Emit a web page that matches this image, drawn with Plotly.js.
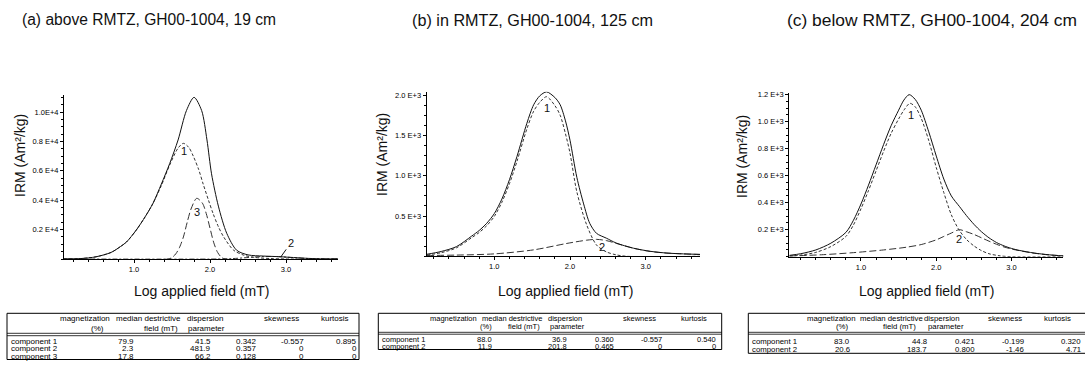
<!DOCTYPE html>
<html>
<head>
<meta charset="utf-8">
<script src="https://cdn.plot.ly/plotly-3.0.1.min.js"></script>
<style>
html,body{margin:0;padding:0;background:#fff;}
#chart{width:1085px;height:372px;}
</style>
</head>
<body>
<div id="chart"></div>
<script>
// ---------------- DATA ----------------
const panelTitles = ["(a) above RMTZ, GH00-1004, 19 cm", "(b) in RMTZ, GH00-1004, 125 cm", "(c) below RMTZ, GH00-1004, 204 cm"];
const xTitle = "Log applied field (mT)";
const yTitle = "IRM (Am\u00b2/kg)";
const xTickVals = [1, 2, 3];
const xTickText = ["1.0", "2.0", "3.0"];

// Panel (a)
const yTickValsA = [2000, 4000, 6000, 8000, 10000];
const yTickTextA = ["0.2 E+4", "0.4 E+4", "0.6 E+4", "0.8 E+4", "1.0E+4"];
const fieldA_total = [0.08, 0.3, 0.5, 0.7, 0.82, 0.9, 1.03, 1.15, 1.25, 1.36, 1.47, 1.58, 1.69, 1.79, 1.89, 1.96, 2.02, 2.11, 2.22, 2.35, 2.5, 2.7, 2.9, 3.1, 3.3, 3.5, 3.68];
const irmA_total   = [0, 30, 150, 450, 840, 1150, 1970, 2900, 3790, 5100, 6500, 8100, 10100, 11000, 10100, 8100, 5800, 3600, 1750, 600, 280, 200, 160, 100, 40, 10, 0];
const fieldA_c1 = [0.08, 0.3, 0.5, 0.7, 0.82, 0.9, 1.03, 1.15, 1.25, 1.36, 1.47, 1.58, 1.65, 1.72, 1.78, 1.85, 1.91, 1.98, 2.04, 2.11, 2.18, 2.31, 2.45, 2.6, 2.8, 3.0, 3.68];
const irmA_c1   = [0, 30, 150, 450, 840, 1150, 1970, 2900, 3790, 5000, 6400, 7550, 7870, 7600, 7000, 6100, 5100, 4000, 3100, 2200, 1500, 600, 250, 100, 30, 0, 0];
const fieldA_c2 = [0.08, 2.1, 2.3, 2.5, 2.7, 2.9, 3.1, 3.3, 3.5, 3.68];
const irmA_c2   = [0, 0, 30, 100, 170, 160, 90, 30, 5, 0];
const fieldA_c3 = [0.08, 1.45, 1.5, 1.55, 1.6, 1.65, 1.7, 1.75, 1.825, 1.9, 1.95, 2.0, 2.05, 2.1, 2.15, 2.2, 3.68];
const irmA_c3   = [0, 0, 100, 350, 800, 1500, 2500, 3400, 4130, 3800, 3100, 2100, 1100, 450, 120, 0, 0];

// Panel (b)
const yTickValsB = [500, 1000, 1500, 2000];
const yTickTextB = ["0.5 E+3", "1.0 E+3", "1.5 E+3", "2.0 E+3"];
const fieldB_total = [0.11, 0.3, 0.5, 0.7, 0.8, 0.9, 1.0, 1.1, 1.2, 1.3, 1.43, 1.52, 1.6, 1.69, 1.8, 1.87, 1.94, 2.0, 2.09, 2.18, 2.26, 2.35, 2.48, 2.61, 2.84, 3.06, 3.28, 3.5, 3.72];
const irmB_total   = [25, 60, 120, 250, 320, 410, 530, 710, 950, 1240, 1650, 1880, 1990, 2040, 1970, 1880, 1680, 1440, 980, 650, 410, 285, 225, 165, 100, 62, 40, 30, 24];
const fieldB_c1 = [0.11, 0.3, 0.5, 0.7, 0.8, 0.9, 1.0, 1.1, 1.2, 1.3, 1.43, 1.52, 1.6, 1.69, 1.8, 1.87, 1.94, 2.0, 2.09, 2.22, 2.35, 2.48, 2.61, 2.75, 3.72];
const irmB_c1   = [15, 45, 105, 230, 295, 380, 495, 670, 900, 1180, 1580, 1800, 1910, 1980, 1870, 1750, 1520, 1280, 800, 390, 140, 55, 18, 0, 0];
const fieldB_c2 = [0.11, 0.5, 1.0, 1.52, 1.96, 2.22, 2.35, 2.48, 2.61, 2.84, 3.06, 3.28, 3.5, 3.72];
const irmB_c2   = [10, 15, 30, 80, 160, 200, 210, 195, 160, 100, 60, 40, 30, 22];

// Panel (c)
const yTickValsC = [200, 400, 600, 800, 1000, 1200];
const yTickTextC = ["0.2 E+3", "0.4 E+3", "0.6 E+3", "0.8 E+3", "1.0 E+3", "1.2 E+3"];
const fieldC_total = [0.05, 0.2, 0.4, 0.6, 0.8, 0.9, 1.0, 1.1, 1.2, 1.3, 1.4, 1.5, 1.57, 1.64, 1.72, 1.8, 1.9, 2.0, 2.1, 2.2, 2.31, 2.4, 2.5, 2.6, 2.7, 2.8, 2.9, 3.0, 3.1, 3.3, 3.5, 3.69];
const irmC_total   = [10, 22, 50, 100, 180, 270, 390, 530, 680, 830, 970, 1085, 1160, 1200, 1165, 1085, 925, 745, 575, 450, 370, 305, 240, 185, 140, 105, 80, 61, 47, 27, 14, 6];
const fieldC_c1 = [0.05, 0.2, 0.4, 0.6, 0.8, 0.9, 1.0, 1.1, 1.2, 1.3, 1.4, 1.5, 1.57, 1.65, 1.72, 1.8, 1.9, 2.0, 2.1, 2.2, 2.3, 2.4, 2.5, 2.6, 2.7, 2.85, 3.0, 3.69];
const irmC_c1   = [5, 12, 32, 75, 150, 235, 355, 490, 635, 780, 913, 1020, 1085, 1136, 1110, 1025, 860, 660, 475, 310, 200, 128, 80, 45, 22, 6, 0, 0];
const fieldC_c2 = [0.05, 0.5, 0.9, 1.3, 1.6, 1.8, 2.0, 2.1, 2.2, 2.305, 2.4, 2.5, 2.6, 2.7, 2.8, 2.9, 3.0, 3.1, 3.3, 3.5, 3.69];
const irmC_c2   = [5, 15, 30, 50, 70, 90, 125, 150, 175, 200, 185, 165, 140, 115, 92, 72, 57, 45, 26, 13, 6];

// Component labels on curves
const curveLabelsA = ["1", "2", "3"];
const curveLabelsB = ["1", "2"];
const curveLabelsC = ["1", "2"];

// Tables
const tableHeader1 = ["magnetization", "median destrictive", "dispersion", "skewness", "kurtosis"];
const tableHeader2 = ["(%)", "field (mT)", "parameter"];
const rowNamesA = ["component 1", "component 2", "component 3"];
const magnetA = ["79.9", "2.3", "17.8"];
const mdfA = ["41.5", "481.9", "66.2"];
const dpA = ["0.342", "0.357", "0.128"];
const skewA = ["-0.557", "0", "0"];
const kurtA = ["0.895", "0", "0"];
const rowNamesB = ["component 1", "component 2"];
const magnetB = ["88.0", "11.9"];
const mdfB = ["36.9", "201.8"];
const dpB = ["0.360", "0.465"];
const skewB = ["-0.557", "0"];
const kurtB = ["0.540", "0"];
const rowNamesC = ["component 1", "component 2"];
const magnetC = ["83.0", "20.6"];
const mdfC = ["44.8", "183.7"];
const dpC = ["0.421", "0.800"];
const skewC = ["-0.199", "-1.46"];
const kurtC = ["0.320", "4.71"];

// ---------------- LAYOUT HELPERS ----------------
const W = 1085, H = 372;
const PX = v => v / W;
const PY = v => 1 - v / H;
const FONT = "Liberation Sans, Arial, Helvetica, sans-serif";
const INK = "#111";

const panels = [
  {xpx: [64, 338], ypx: [95, 259], xr: [0.079, 3.684], yr: [0, 11160], yv: yTickValsA, yt: yTickTextA, minorY: 500,
   titleX: 20, titleFs: 15.6, xTitleX: 201, yTitleX: 20, yTitleY: 156},
  {xpx: [426.7, 700], ypx: [91.7, 256.3], xr: [0.107, 3.717], yr: [0, 2042], yv: yTickValsB, yt: yTickTextB, minorY: 125,
   titleX: 410, titleFs: 16.2, xTitleX: 565, yTitleX: 382, yTitleY: 155},
  {xpx: [789.3, 1063.3], ypx: [93.3, 256.7], xr: [0.048, 3.687], yr: [0, 1210], yv: yTickValsC, yt: yTickTextC, minorY: 50,
   titleX: 785, titleFs: 17.4, xTitleX: 926, yTitleX: 742, yTitleY: 157}
];

const traces = [];
function addCurve(i, xs, ys, dash, color) {
  const sfx = i === 0 ? "" : String(i + 1);
  traces.push({
    type: "scatter", mode: "lines", x: xs, y: ys,
    xaxis: "x" + sfx, yaxis: "y" + sfx,
    line: {color: color, width: 1, dash: dash, shape: "spline", smoothing: 0.8},
    hoverinfo: "skip", showlegend: false
  });
}
const SOLID = "solid", SHORT = "3px,2px", LONG = "7px,3px";
addCurve(0, fieldA_c2, irmA_c2, "2px,2px,5px,2px", "#333");
addCurve(0, fieldA_c3, irmA_c3, LONG, "#333");
addCurve(0, fieldA_c1, irmA_c1, SHORT, "#333");
addCurve(0, fieldA_total, irmA_total, SOLID, INK);
addCurve(1, fieldB_c2, irmB_c2, LONG, "#333");
addCurve(1, fieldB_c1, irmB_c1, SHORT, "#333");
addCurve(1, fieldB_total, irmB_total, SOLID, INK);
addCurve(2, fieldC_c2, irmC_c2, LONG, "#333");
addCurve(2, fieldC_c1, irmC_c1, SHORT, "#333");
addCurve(2, fieldC_total, irmC_total, SOLID, INK);

const layout = {
  width: W, height: H,
  margin: {l: 0, r: 0, t: 0, b: 0},
  paper_bgcolor: "#fff", plot_bgcolor: "rgba(0,0,0,0)",
  font: {family: FONT, color: INK},
  showlegend: false,
  annotations: [], shapes: []
};

panels.forEach((p, i) => {
  const sfx = i === 0 ? "" : String(i + 1);
  layout["xaxis" + sfx] = {
    domain: [PX(p.xpx[0]), PX(p.xpx[1])], range: p.xr, anchor: "y" + sfx,
    showgrid: false, zeroline: false, showline: true, linecolor: "#000", linewidth: 1,
    tickmode: "array", tickvals: xTickVals, ticktext: xTickText,
    ticks: "outside", ticklen: 3, tickwidth: 1, tickcolor: "#000",
    tickfont: {family: FONT, size: 7.5, color: "#000"},
    minor: {ticks: "outside", ticklen: 2, tickcolor: "#000", dtick: 0.2, tick0: 0, showgrid: false},
    fixedrange: true
  };
  layout["yaxis" + sfx] = {
    domain: [PY(p.ypx[1]), PY(p.ypx[0])], range: p.yr, anchor: "x" + sfx,
    showgrid: false, zeroline: false, showline: true, linecolor: "#000", linewidth: 1,
    tickmode: "array", tickvals: p.yv, ticktext: p.yt,
    ticks: "outside", ticklen: 3, tickwidth: 1, tickcolor: "#000",
    tickfont: {family: FONT, size: 7.5, color: "#000"},
    minor: {ticks: "outside", ticklen: 2, tickcolor: "#000", dtick: p.minorY, tick0: 0, showgrid: false},
    fixedrange: true
  };
  layout.annotations.push({text: panelTitles[i], xref: "paper", yref: "paper", x: PX(p.titleX), y: PY(20),
    xanchor: "left", yanchor: "middle", showarrow: false, font: {family: FONT, size: p.titleFs, color: INK}});
  layout.annotations.push({text: xTitle, xref: "paper", yref: "paper", x: PX(p.xTitleX), y: PY(291),
    xanchor: "center", yanchor: "middle", showarrow: false, font: {family: FONT, size: 14, color: INK}});
  layout.annotations.push({text: yTitle, xref: "paper", yref: "paper", x: PX(p.yTitleX), y: PY(p.yTitleY),
    xanchor: "center", yanchor: "middle", textangle: -90, showarrow: false, font: {family: FONT, size: 14, color: INK}});
});

function curveLabel(i, text, x, y, opts) {
  const sfx = i === 0 ? "" : String(i + 1);
  layout.annotations.push(Object.assign({text: text, xref: "x" + sfx, yref: "y" + sfx, x: x, y: y,
    showarrow: false, font: {family: FONT, size: 11, color: INK}}, opts || {}));
}
curveLabel(0, curveLabelsA[0], 1.66, 7370);
curveLabel(0, curveLabelsA[2], 1.825, 3200);
curveLabel(0, curveLabelsA[1], 2.93, 130, {showarrow: true, arrowhead: 0, arrowwidth: 1, arrowcolor: INK, ax: 10, ay: -14});
curveLabel(1, curveLabelsB[0], 1.69, 1840);
curveLabel(1, curveLabelsB[1], 2.42, 120);
curveLabel(2, curveLabelsC[0], 1.67, 1050);
curveLabel(2, curveLabelsC[1], 2.305, 130);

// ---------------- TABLES ----------------
const tables = [
  {box: [7, 359, 313.3, 359.5], h1y: 318.5, h2y: 328, dbl: [333.3, 335.7], rowsY: [341, 348.5, 356], labelX: 9.5,
   colRight: [135, 212, 258, 305, 357.5], h1x: [85, 148, 204.5, 282, 335], h2x: [97, 161, 206], fs: 8,
   names: rowNamesA, cols: [magnetA, mdfA, dpA, skewA, kurtA]},
  {box: [378.3, 721.7, 313.3, 349.5], h1y: 318.3, h2y: 326.5, dbl: [332.3, 334.2], rowsY: [339.2, 346], labelX: 380.7,
   colRight: [493.3, 568.3, 615, 663.3, 717.3], h1x: [453, 512, 565, 639.5, 693.5], h2x: [486, 524, 567], fs: 7.5,
   names: rowNamesB, cols: [magnetB, mdfB, dpB, skewB, kurtB]},
  {box: [748.3, 1095, 313.3, 353.3], h1y: 318.5, h2y: 326.2, dbl: [332.3, 334.2], rowsY: [341.7, 349.2], labelX: 750.7,
   colRight: [850.7, 928.3, 976, 1025, 1082], h1x: [831, 891, 942, 1005, 1057.5], h2x: [842, 899, 946], fs: 7.8,
   names: rowNamesC, cols: [magnetC, mdfC, dpC, skewC, kurtC]}
];
const TCOL = "#000";
tables.forEach(t => {
  layout.shapes.push({type: "rect", xref: "paper", yref: "paper", x0: PX(t.box[0]), x1: PX(t.box[1]),
    y0: PY(t.box[3]), y1: PY(t.box[2]), line: {color: "#000", width: 1}});
  t.dbl.forEach(yy => layout.shapes.push({type: "line", xref: "paper", yref: "paper",
    x0: PX(t.box[0]), x1: PX(t.box[1]), y0: PY(yy), y1: PY(yy), line: {color: "#000", width: 0.8}}));
  const tf = {family: FONT, size: t.fs, color: TCOL};
  tableHeader1.forEach((h, k) => layout.annotations.push({text: h, xref: "paper", yref: "paper",
    x: PX(t.h1x[k]), y: PY(t.h1y), xanchor: "center", yanchor: "middle", showarrow: false, borderpad: 0, font: tf}));
  tableHeader2.forEach((h, k) => layout.annotations.push({text: h, xref: "paper", yref: "paper",
    x: PX(t.h2x[k]), y: PY(t.h2y), xanchor: "center", yanchor: "middle", showarrow: false, borderpad: 0, font: tf}));
  t.names.forEach((n, r) => {
    layout.annotations.push({text: n, xref: "paper", yref: "paper", x: PX(t.labelX), y: PY(t.rowsY[r]),
      xanchor: "left", yanchor: "middle", showarrow: false, borderpad: 0, font: tf});
    t.cols.forEach((col, c) => layout.annotations.push({text: col[r], xref: "paper", yref: "paper",
      x: PX(t.colRight[c]), y: PY(t.rowsY[r]), xanchor: "right", yanchor: "middle", showarrow: false, borderpad: 0, font: tf}));
  });
});

Plotly.newPlot("chart", traces, layout, {staticPlot: true, displayModeBar: false});
</script>
</body>
</html>
